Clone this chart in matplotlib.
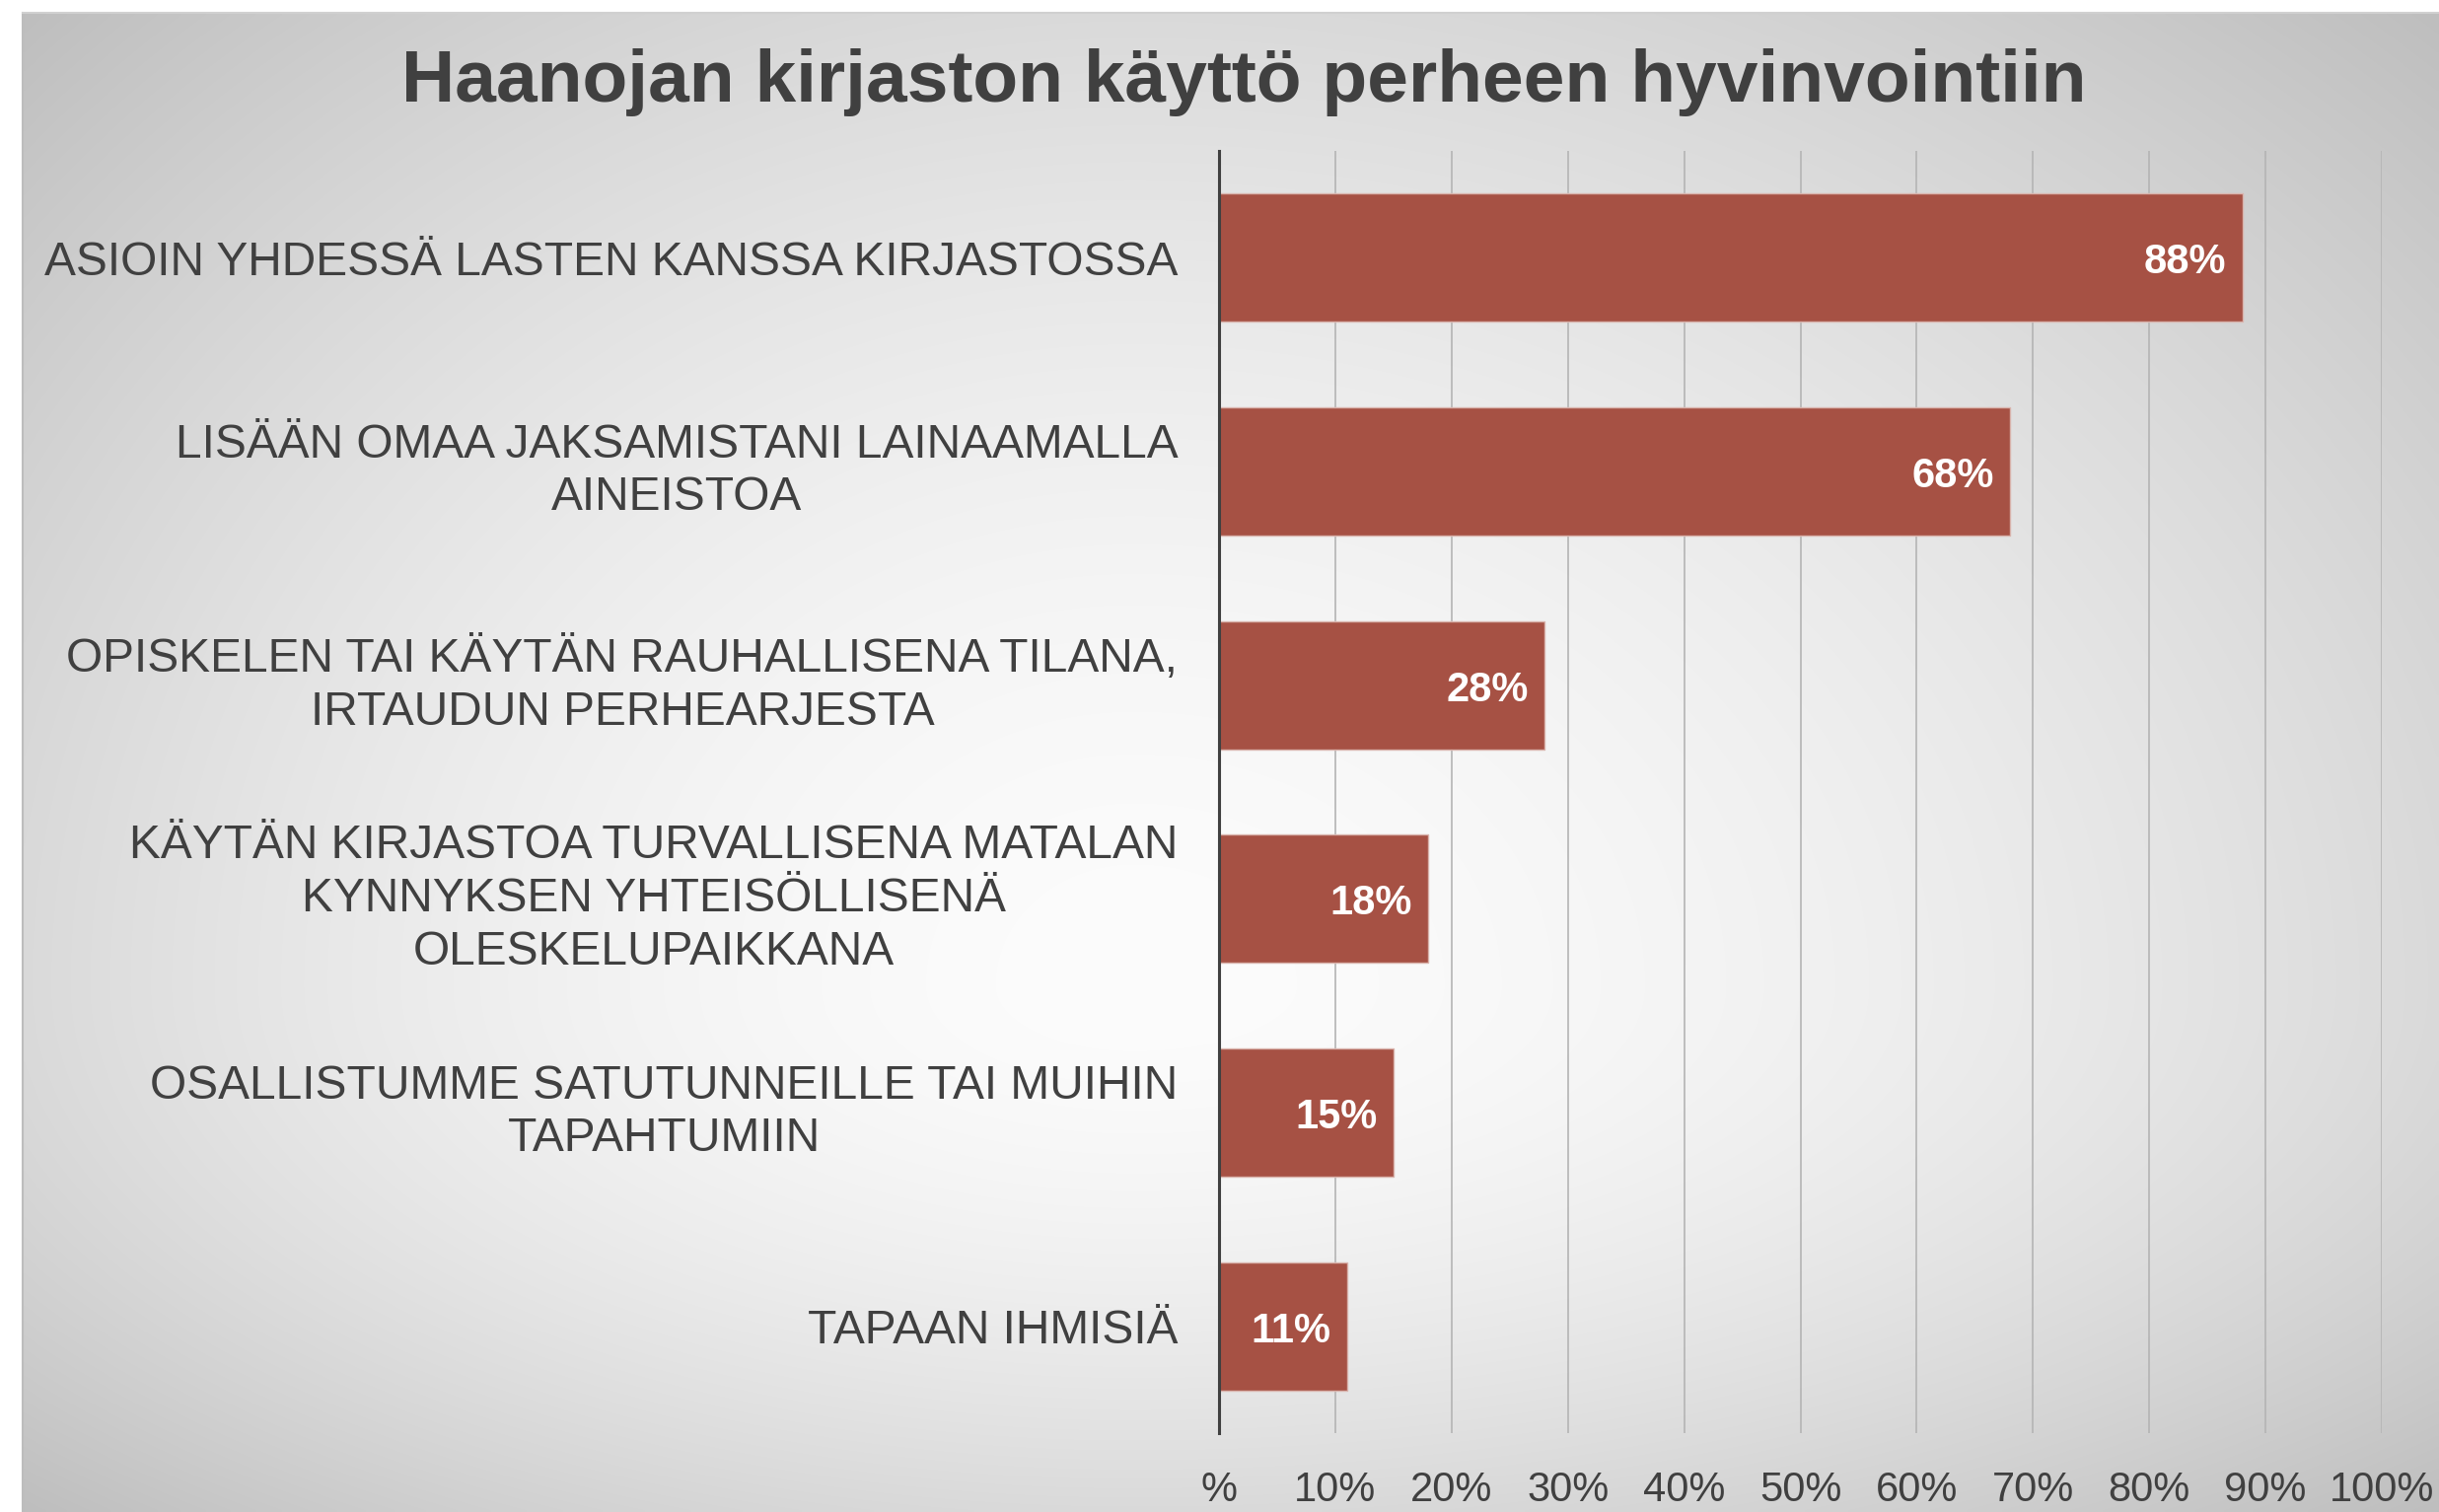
import numpy as np
import matplotlib
matplotlib.use("Agg")
import matplotlib.pyplot as plt

# ---- data ----
categories = [
    "ASIOIN YHDESSÄ LASTEN KANSSA KIRJASTOSSA",
    "LISÄÄN OMAA JAKSAMISTANI LAINAAMALLA\nAINEISTOA",
    "OPISKELEN TAI KÄYTÄN RAUHALLISENA TILANA,\nIRTAUDUN PERHEARJESTA",
    "KÄYTÄN KIRJASTOA TURVALLISENA MATALAN\nKYNNYKSEN YHTEISÖLLISENÄ\nOLESKELUPAIKKANA",
    "OSALLISTUMME SATUTUNNEILLE TAI MUIHIN\nTAPAHTUMIIN",
    "TAPAAN IHMISIÄ",
]
values = [0.88, 0.68, 0.28, 0.18, 0.15, 0.11]
tick_values = [0.0, 0.1, 0.2, 0.3, 0.4, 0.5, 0.6, 0.7, 0.8, 0.9, 1.0]
tick_labels = ["%", "10%", "20%", "30%", "40%", "50%", "60%", "70%", "80%", "90%", "100%"]
title = "Haanojan kirjaston käyttö perheen hyvinvointiin"

# ---- style ----
W, H = 2473, 1533
DPI = 100
TEXT = "#404040"
BAR = "#A65144"
plt.rcParams["font.family"] = ["Liberation Sans", "DejaVu Sans"]

fig = plt.figure(figsize=(W / DPI, H / DPI), dpi=DPI)
fig.patch.set_facecolor("white")

# background panel with radial gradient
x0_px, y0_px = 23, 13
bg = fig.add_axes([x0_px / W, 0, 1 - x0_px / W, (H - y0_px) / H])
bg.set_zorder(0)
nx, ny = 600, 380
xs = np.linspace(x0_px, W, nx)
ys = np.linspace(y0_px, H, ny)
XX, YY = np.meshgrid(xs, ys)
cx, cy = 1150, 1000
dx = (XX - cx) / np.where(XX < cx, cx - x0_px, W - cx)
dy = (YY - cy) / np.where(YY < cy, cy - y0_px, H - cy)
r2 = (dx ** 2 + dy ** 2) / 2.0
shade = (252 - 62 * r2 ** 0.85) / 255.0
img = np.dstack([shade, shade, shade])
bg.imshow(img, extent=[0, 1, 0, 1], aspect="auto", origin="upper", interpolation="bilinear")
bg.set_xlim(0, 1)
bg.set_ylim(0, 1)
bg.axis("off")
bg.plot([0, 0], [0, 1], color="#bdbdbd", lw=1.5, transform=bg.transAxes, clip_on=False)
bg.plot([0, 1], [1, 1], color="#d0d0d0", lw=1.5, transform=bg.transAxes, clip_on=False)

# main axes
left, right = 1236 / W, 2415 / W
top, bottom = 1 - 153 / H, 1 - 1453 / H
ax = fig.add_axes([left, bottom, right - left, top - bottom])
ax.set_zorder(1)
ax.patch.set_alpha(0)

y = np.arange(len(categories))
bars = ax.barh(y, values, height=0.6, color=BAR, edgecolor="#d9b3ac", linewidth=1.0, zorder=3)
ax.set_xlim(0, 1.0)
ax.set_ylim(len(categories) - 0.5, -0.5)

for gx in tick_values[1:]:
    ax.axvline(gx, color="#b4b4b4", lw=1.2, zorder=1)

ax.set_xticks(tick_values)
ax.set_xticklabels(tick_labels, fontsize=30, color=TEXT)
ax.set_yticks(y)
ax.set_yticklabels(categories, fontsize=34.5, color=TEXT, linespacing=1.25)
for lbl in ax.get_yticklabels():
    lbl.set_multialignment("center")
    if "\n" in lbl.get_text():
        lbl.set_verticalalignment("center")
ax.tick_params(axis="x", length=0, pad=27)
ax.tick_params(axis="y", length=0, pad=30)

for s in ["top", "right", "bottom"]:
    ax.spines[s].set_visible(False)
ax.spines["left"].set_color(TEXT)
ax.spines["left"].set_linewidth(2.2)
ax.spines["left"].set_zorder(4)

for b, v in zip(bars, values):
    ax.annotate(f"{round(v * 100)}%", xy=(v, b.get_y() + b.get_height() / 2),
                xytext=(-11.5, -3.5), textcoords="offset points",
                ha="right", va="center", fontsize=30, fontweight="bold",
                color="white", zorder=5)

fig.text(1261 / W, 1 - 84 / H, title, ha="center", va="center",
         fontsize=54, fontweight="bold", color=TEXT)

fig.savefig("out.png", dpi=DPI, facecolor="white")
